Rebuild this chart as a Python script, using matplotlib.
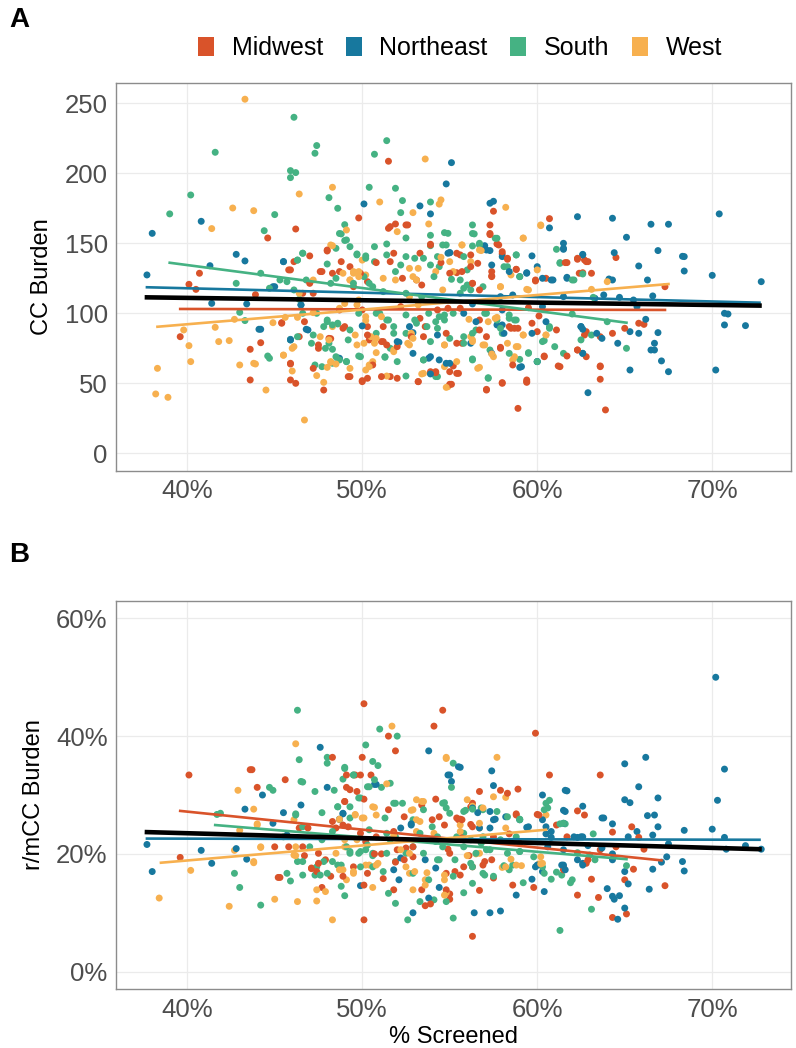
import matplotlib
matplotlib.use("Agg")
import matplotlib.pyplot as plt
from matplotlib.patches import Patch
from matplotlib.ticker import FuncFormatter

regions = ["Midwest", "Northeast", "South", "West"]
colors = {"Midwest": "#D9532A", "Northeast": "#17789E", "South": "#45B283", "West": "#F7B04F"}

# ---- Panel A: % screened vs CC burden ----
mw_a = [(51.5, 208.6), (49.8, 168.1), (46.2, 160.2), (44.6, 153.8), (40.7, 128.6), (40.1, 120.7), (40.5, 117.1),
        (39.6, 83.3), (43.6, 74.3), (43.6, 52.4), (44.2, 79), (43.9, 113.3), (45.4, 93.3), (45.9, 63.8), (45.9, 52.4),
        (46.2, 50), (46.4, 83.3), (45.9, 131), (47.0, 141), (47.6, 129.8), (48.0, 145.2), (48.2, 81.9), (47.5, 75),
        (47.2, 60.7), (47.8, 45.2), (49.2, 54.8), (48.9, 89.3), (50.0, 51.9), (50.3, 53.6), (50.6, 63.1), (50.4, 81),
        (50.8, 136.2), (51.6, 161.9), (51.9, 163.8), (52.6, 163.1), (51.8, 142.9), (52.2, 104.8), (51.1, 79.8),
        (51.2, 90.5), (51.6, 54.8), (53.2, 51.2), (53.3, 142.9), (53.9, 149.3), (53.6, 90.5), (53.9, 57.1),
        (54.2, 58.3), (54.5, 136.2), (52.8, 83.3), (48.3, 128.6), (48.7, 102.4), (47.2, 114.3), (46.6, 114.3),
        (49.5, 119), (50.0, 102.4), (57.5, 172.9), (60.7, 167.6), (57.3, 156.2), (57.7, 149.5), (64.5, 139.8),
        (62.3, 138.6), (62.7, 138.1), (62.9, 136.9), (61.6, 136.2), (58.0, 142.4), (58.3, 138.6), (62.4, 128.6),
        (63.1, 128.6), (58.8, 131.4), (59.9, 123.1), (67.3, 119), (57.4, 126.7), (56.3, 121.4), (55.4, 129),
        (60.1, 98.1), (65.0, 89.3), (64.3, 85.7), (65.8, 92.9), (66.1, 92.1), (63.6, 83.3), (62.7, 84.5),
        (62.3, 73.8), (61.2, 62.4), (63.6, 62.4), (63.6, 52.9), (63.9, 31), (61.7, 69.5), (60.4, 69.5),
        (58.9, 32.1), (59.4, 52.4), (59.4, 50.7), (58.0, 50.5), (57.1, 45.7), (58.6, 63.1), (58.5, 89.3),
        (58.9, 89.3), (57.9, 75.7), (55.4, 57.1), (55.0, 49.3), (55.1, 49.3), (55.2, 62.4), (55.7, 78.6),
        (54.8, 85.7), (56.7, 95.2), (59.5, 104), (56.2, 133.3), (55.6, 141.7)]
mw_a_core = [(51.5, 160.7), (52.5, 163.1), (48.0, 144.5), (47.7, 129.8), (48.8, 136.9), (48.7, 129.8), (49.3, 133.3),
             (49.9, 128.6), (50.3, 122.6), (51.6, 136.9), (52.3, 125), (53.1, 123.8), (53.4, 120.2), (53.9, 148.8),
             (46.1, 136.9), (45.8, 131), (47.0, 121.4), (46.7, 94), (47.5, 77.4), (48.1, 82.1), (49.0, 90.5),
             (50.3, 90.5), (50.3, 84.5), (51.2, 79.8), (51.4, 77.4), (52.0, 76.2), (53.3, 96.4), (53.5, 83.3),
             (53.9, 58.3), (45.9, 64.3), (45.4, 92.9), (49.3, 54.8), (50.0, 51.2), (51.1, 54.8), (52.0, 53.6),
             (53.2, 51.2), (54.2, 57.6), (57.3, 163.1), (57.8, 148.8), (58.0, 144), (58.3, 139.3), (57.3, 157),
             (56.6, 135.7), (56.2, 141.7), (55.4, 142.9), (55.7, 129.8), (55.0, 128.6), (57.4, 129.8), (57.4, 126.2),
             (58.8, 131.4), (59.9, 123.8), (56.3, 121.4), (56.7, 116.7), (60.5, 125), (61.7, 136.2), (62.3, 139.3),
             (62.8, 136.9), (62.6, 129), (54.3, 102.4), (54.9, 103.6), (55.6, 103.6), (56.7, 88.1), (57.1, 83.3),
             (57.9, 75), (58.4, 90.5), (58.7, 89.3), (59.7, 92.9), (60.0, 86.9), (60.4, 69), (61.3, 61.9),
             (61.1, 88.1), (62.3, 73.8), (62.8, 69), (55.4, 78.6), (55.0, 58.3), (55.5, 57.1), (57.1, 45.2),
             (58.0, 50), (59.4, 51.2), (63.6, 61.9), (62.8, 86.9)]
ne_a = [(38.0, 157.1), (37.7, 127.4), (40.8, 165.7), (41.3, 134), (42.8, 142.1), (43.3, 137.4), (41.4, 107.1),
        (43.4, 106.7), (45.5, 136.9), (44.2, 88.6), (44.9, 119), (45.9, 81.4), (46.5, 106), (46.8, 88.6),
        (48.6, 68.1), (50.1, 178.1), (53.3, 176.7), (53.9, 171), (54.8, 192.4), (53.9, 56.7), (53.8, 67.9),
        (54.8, 64.3), (52.0, 79.8), (52.9, 86.2), (54.3, 84.5), (50.0, 91), (54.9, 142.9), (55.1, 207.6),
        (57.3, 178.6), (57.5, 180), (60.7, 161), (62.3, 169), (64.3, 167.9), (66.5, 163.6), (67.5, 163.6),
        (70.4, 171), (65.1, 154.3), (61.5, 150), (61.5, 146.4), (66.9, 144.8), (64.4, 143.3), (62.6, 142.1),
        (59.7, 141), (68.3, 140.7), (68.4, 140.5), (65.8, 133.8), (68.4, 130.2), (70.0, 127.1), (72.8, 122.6),
        (64.1, 124.5), (64.3, 123.8), (66.3, 123.8), (60.9, 123.8), (61.7, 125.7), (59.4, 129), (57.3, 144.8),
        (57.0, 148.3), (55.0, 143.3), (70.7, 100), (70.9, 99.5), (70.7, 91.7), (71.9, 91.2), (70.2, 59.5),
        (67.5, 58.3), (65.3, 59.5), (67.1, 66), (66.5, 73.8), (66.7, 73.8), (66.7, 78.6), (66.9, 86.2),
        (66.2, 95.7), (65.8, 85.7), (65.3, 86.9), (64.6, 78.6), (63.7, 82.1), (62.5, 90.5), (62.6, 88.6),
        (62.6, 71.4), (62.9, 43.3), (59.7, 85.7), (60.0, 65.5), (59.0, 61.4), (58.1, 85.7), (57.7, 91.7),
        (56.3, 106.7), (55.8, 100), (65.5, 109.5), (65.7, 104.8), (66.6, 112.4), (63.8, 113.1), (63.3, 110.7),
        (61.5, 111.9), (60.3, 104.8), (58.6, 113.1), (58.0, 102.4), (64.7, 111.4)]
ne_a_core = [(45.5, 136.9), (45.0, 119), (46.5, 106), (45.9, 81), (46.9, 88.1), (48.7, 67.9), (52.1, 79.3),
             (52.7, 90.5), (52.9, 71.4), (53.9, 69), (44.1, 88.6), (55.0, 143.3), (57.1, 145.2), (57.4, 134.5),
             (58.0, 140.5), (58.4, 129.8), (59.0, 126.2), (59.4, 128.6), (60.0, 133.3), (60.3, 125), (60.8, 123.8),
             (61.7, 125), (61.5, 145.7), (62.6, 141.7), (57.9, 111.9), (56.5, 94), (58.0, 91.7), (56.2, 78.6),
             (57.4, 71.4), (59.1, 61.9), (60.0, 65.5), (60.5, 94), (62.5, 90.5), (62.6, 71.4), (63.4, 85.7),
             (54.4, 66.7), (55.0, 64.3)]
so_a = [(46.1, 240), (47.4, 219.8), (47.3, 214.3), (51.4, 223.3), (41.6, 215), (50.7, 213.6), (45.9, 201.9),
        (46.2, 200.5), (45.9, 196.9), (40.2, 184.5), (39.0, 171), (45.0, 170.5), (48.1, 182.6), (48.6, 175),
        (50.4, 190), (51.9, 189.3), (52.3, 180.5), (53.9, 179.5), (44.4, 159), (49.0, 163.3), (48.8, 156.7),
        (49.1, 152.4), (46.6, 142.9), (46.3, 138), (48.0, 135.2), (49.7, 142.4), (50.7, 147.6), (51.4, 149.5),
        (52.5, 153.8), (52.2, 171.9), (53.0, 139.3), (53.9, 155.7), (54.6, 148.8), (42.8, 121.4), (43.0, 100.7),
        (43.3, 94.8), (44.2, 128.6), (44.6, 69.5), (44.7, 67.9), (45.7, 122.6), (46.4, 110), (46.8, 123.8),
        (47.1, 78.6), (47.7, 61.9), (48.0, 94), (48.3, 74.3), (48.6, 92.4), (48.7, 66.7), (49.1, 65.5),
        (49.2, 81), (49.5, 121.4), (49.8, 100), (49.8, 69.5), (50.2, 141), (50.4, 121.4), (50.8, 85.7),
        (51.0, 100), (51.3, 68.6), (51.5, 95.2), (51.8, 85.7), (52.0, 65.5), (52.5, 55.2), (52.5, 114.3),
        (53.0, 95.2), (53.5, 66.7), (53.8, 100), (54.1, 126.2), (54.3, 54.8), (53.4, 111.9), (54.4, 97.6),
        (56.3, 163.1), (56.4, 156.7), (54.9, 157.1), (53.9, 148.3), (56.3, 148.1), (56.7, 150), (57.6, 153.6),
        (58.8, 141.7), (61.1, 145.7), (61.3, 136.2), (62.0, 123.8), (62.6, 128.1), (62.0, 99.5), (63.2, 111.4),
        (65.1, 75), (63.1, 84.5), (60.7, 89.3), (60.4, 80.5), (61.5, 71.4), (60.0, 65.5), (59.5, 71.9),
        (59.0, 67.1), (57.2, 54), (56.3, 67.4), (56.5, 88.1), (55.8, 83.3), (57.9, 89.3), (58.4, 96.4),
        (58.8, 95.2), (57.1, 100), (55.6, 114.3), (56.0, 120.2), (55.1, 124.3), (54.4, 133.3), (54.3, 140.5),
        (59.0, 126.2), (58.1, 133.3), (56.9, 119), (54.7, 95.2), (55.2, 100)]
so_a_core = [(48.7, 157), (49.0, 152), (49.3, 147.6), (48.5, 146.4), (46.6, 142.9), (46.3, 138), (49.7, 141.7),
             (50.2, 139.3), (50.7, 136.9), (51.4, 141.7), (51.9, 129.8), (52.2, 134.5), (52.5, 140.5), (53.5, 139.3),
             (53.9, 134.5), (50.1, 126.2), (50.6, 119), (51.2, 115.5), (48.5, 125), (48.2, 121.4), (46.1, 116.7),
             (45.3, 123.8), (44.7, 117.9), (47.4, 100), (48.0, 95.2), (48.3, 91.7), (48.6, 92.9), (47.8, 90.5),
             (49.3, 88.1), (50.8, 100), (51.4, 95.2), (51.8, 90.5), (52.5, 98.8), (53.1, 92.9), (53.7, 90.5),
             (54.2, 94), (47.2, 84.5), (48.1, 78.6), (47.9, 75), (48.5, 69), (49.1, 65.5), (48.3, 64.3),
             (47.3, 63.1), (49.9, 69), (51.6, 75), (52.5, 85.7), (53.9, 79.8), (53.5, 66.7), (51.3, 69),
             (46.3, 83.3), (45.9, 81), (46.6, 100), (54.7, 157.6), (54.8, 148.8), (56.3, 157), (55.8, 140.5),
             (56.0, 131), (55.6, 123.8), (55.8, 117.9), (56.2, 116.7), (56.7, 148.8), (57.7, 153.6), (58.3, 133.3),
             (58.8, 141.7), (57.0, 100), (57.7, 95.2), (58.0, 85.7), (58.4, 98.8), (58.7, 95.2), (54.7, 98.8),
             (54.3, 89.3), (55.0, 82.1), (55.8, 78.6), (56.3, 85.7), (57.3, 73.8), (58.4, 71.4), (59.5, 71.4),
             (56.3, 66.7), (60.7, 90.5), (60.3, 79.8), (61.3, 135.7), (62.1, 123.8), (61.0, 76.2), (64.0, 94),
             (62.5, 81), (57.2, 53.6), (54.2, 54.8)]
we_a = [(43.3, 252.9), (53.6, 210.2), (48.3, 190), (46.4, 185.2), (51.0, 179.5), (42.6, 175.2), (43.8, 173.3),
        (41.4, 160.5), (53.8, 163.8), (52.9, 171.9), (54.4, 178), (54.5, 181), (49.1, 159.5), (48.3, 148.3),
        (38.3, 60.7), (38.2, 42.4), (38.9, 40), (39.8, 88.1), (40.1, 76.9), (40.2, 65.5), (41.6, 90), (41.8, 79.8),
        (42.4, 80.5), (42.7, 95.7), (43.0, 63.1), (43.8, 64.3), (43.9, 63.8), (44.5, 45.2), (45.5, 70), (44.9, 93.3),
        (45.6, 97.1), (46.0, 75), (46.0, 58.8), (46.7, 23.8), (46.3, 97.1), (47.2, 100.5), (47.4, 55.5),
        (47.8, 50.7), (48.0, 61.4), (48.2, 65), (48.1, 81), (48.3, 90.5), (48.5, 63.8), (49.0, 107), (49.3, 123.8),
        (49.5, 129.8), (49.8, 126.2), (50.0, 138), (49.8, 109.5), (49.6, 84.5), (50.1, 78.6), (50.2, 94.8),
        (50.4, 61.9), (50.6, 65.5), (50.8, 82.1), (50.8, 71.9), (51.4, 55.2), (51.8, 73.8), (52.0, 158.3),
        (52.6, 78.6), (52.8, 85), (53.1, 123.8), (53.4, 56.7), (54.5, 140), (54.8, 47.1), (54.7, 77.4),
        (58.2, 175.7), (59.2, 153.8), (60.2, 162.6), (55.7, 148.8), (56.8, 144.8), (56.2, 136.9), (55.2, 129.8),
        (64.0, 122.6), (57.9, 119), (59.4, 117.1), (56.1, 95.7), (57.7, 97.1), (56.9, 77.4), (57.4, 71),
        (57.5, 69), (58.9, 76.2), (59.2, 84.5), (60.5, 84.5), (56.7, 61.4), (55.4, 65.5), (54.9, 47.6),
        (53.5, 57.1), (56.3, 81), (58.7, 69)]
we_a_core = [(48.2, 148.8), (48.9, 128.6), (49.3, 123.8), (49.5, 128.6), (49.8, 129.8), (50.2, 127.4), (51.2, 125),
             (51.9, 123.8), (52.7, 132.1), (52.9, 126.2), (53.2, 132.1), (47.2, 123.8), (46.4, 114.3), (48.7, 103.6),
             (49.7, 106), (50.2, 97.6), (51.1, 97.6), (52.7, 111.9), (53.2, 106), (47.6, 83.3), (49.7, 77.4),
             (50.5, 83.3), (50.7, 78.6), (51.8, 72.6), (52.8, 85.7), (52.9, 82.1), (52.7, 77.4), (48.2, 65.5),
             (49.3, 60.7), (50.2, 59.5), (50.4, 63.1), (46.1, 76.2), (45.5, 70.2), (55.7, 148.8), (56.7, 145.2),
             (55.0, 136.9), (54.2, 129.8), (54.6, 116.7), (58.5, 127.4), (59.2, 153.6), (60.0, 131), (59.5, 116.7),
             (57.9, 119), (57.6, 96.4), (57.2, 94), (58.3, 78.6), (58.8, 76.2), (59.2, 84.5), (56.2, 83.3),
             (56.3, 79.8), (54.7, 77.4), (57.0, 77.4), (56.6, 60.7), (54.7, 61.9), (58.6, 66.7), (60.5, 84.5),
             (60.2, 163.1), (63.1, 117.1)]

# ---- Panel B: % screened vs r/mCC burden (%) ----
mw_b = [(50.1, 45.5), (40.1, 33.4), (43.6, 34.3), (45.6, 32.6), (44.0, 31.3), (48.3, 36.4), (50.0, 36.4),
        (51.5, 40.0), (51.9, 37.5), (54.6, 44.4), (54.1, 41.7), (49.1, 33.4), (49.6, 33.4), (49.9, 33.4),
        (50.5, 33.4), (49.1, 31.3), (49.3, 30.9), (49.7, 30.6), (49.0, 28.9), (50.1, 29.3), (45.0, 21.2),
        (45.8, 21.2), (39.6, 19.4), (45.2, 16.0), (46.7, 19.7), (47.1, 17.5), (47.5, 18.4), (47.7, 14.3),
        (48.2, 16.2), (48.9, 16.2), (49.5, 17.8), (50.1, 14.7), (50.1, 8.8), (50.3, 16.7), (50.7, 20),
        (51.2, 15.8), (51.5, 27.5), (51.9, 18.6), (52.4, 26.3), (52.5, 21), (51.8, 13.9), (52.9, 21.2),
        (53.4, 13.9), (53.6, 11.2), (53.9, 11.5), (54.2, 29.3), (54.4, 26.3), (54.8, 13.9), (48.3, 25.5),
        (46.4, 24.4), (46.9, 24.4), (48.5, 24.4), (51.1, 20), (59.9, 40.5), (60.7, 33.4), (63.6, 33.4),
        (58.9, 31.0), (56.7, 30.6), (57.9, 30.8), (58.3, 30.3), (55.6, 25.9), (55.4, 26.1), (56.2, 25.0),
        (58.8, 26.8), (60.0, 26.7), (61.1, 24.9), (62.3, 27.3), (62.7, 26.6), (64.3, 23.7), (65.4, 24.6),
        (65.8, 22.8), (66.1, 20.8), (64.5, 21.2), (62.8, 18.4), (61.5, 17.3), (63.1, 15.7), (62.3, 13.0),
        (63.5, 12.6), (65.0, 15.6), (65.5, 17.4), (67.3, 14.6), (65.1, 9.8), (64.3, 9.2), (59.8, 14.3),
        (58.6, 14.7), (57.5, 15.9), (56.7, 13.8), (55.0, 13.2), (55.0, 12.3), (56.3, 6.0), (57.0, 18.7),
        (56.1, 19.7), (55.7, 22.7), (54.9, 20.8), (54.8, 16.7)]
mw_b_core = [(43.7, 34.3), (49.0, 28.9), (53.4, 28.3), (48.9, 24.9), (49.2, 24.6), (49.9, 23.5), (50.2, 22.1),
             (50.8, 22.9), (51.8, 23.8), (46.6, 21.2), (47.5, 20.1), (47.9, 19), (47.4, 17), (47.1, 17.6),
             (52.0, 20.7), (52.4, 19), (52.9, 19.5), (54.0, 25.8), (45.3, 16.0), (55.5, 25.8), (55.7, 25.8),
             (56.3, 24.6), (54.7, 24.9), (58.8, 26.6), (60.1, 26.6), (56.2, 28), (56.3, 28.6), (57.5, 22.9),
             (58.4, 23.4), (59.0, 21.8), (57.4, 19), (56.9, 18.1), (55.8, 17.8), (55.0, 20.1), (55.3, 17),
             (61.7, 22.9), (62.9, 19), (63.6, 20.7), (61.5, 17.8), (55.6, 16.4), (56.3, 17.8)]
ne_b = [(47.6, 38.1), (53.8, 37.5), (48.0, 31.3), (44.3, 30.0), (50.8, 31.8), (54.9, 33.4), (43.3, 27.6),
        (45.5, 27.0), (44.9, 25.2), (48.9, 26.8), (48.7, 25.9), (37.7, 21.6), (38.0, 17.0), (40.8, 20.6),
        (41.4, 18.4), (42.8, 20.9), (43.4, 19.1), (49.9, 14.6), (52.1, 15.6), (52.2, 24.4), (52.9, 10.0),
        (53.8, 12.5), (54.2, 17.6), (54.4, 14.3), (52.8, 24.9), (46.5, 28.3), (70.2, 50.0), (70.7, 34.4),
        (70.3, 29.1), (70.0, 24.2), (70.7, 22.8), (70.8, 20.8), (71.9, 21.4), (72.8, 20.8), (68.4, 24.0),
        (68.3, 18.7), (68.4, 17.1), (67.5, 21.7), (67.4, 19.5), (67.1, 18.6), (66.9, 24.6), (66.6, 23.2),
        (66.9, 29.5), (66.7, 26.6), (66.3, 26.5), (66.2, 36.4), (65.0, 35.3), (65.8, 31.4), (65.0, 29.2),
        (65.3, 28.7), (65.7, 23.8), (65.2, 22.9), (66.6, 17.4), (66.4, 14.0), (65.0, 17.0), (65.2, 14.9),
        (65.0, 10.8), (64.6, 8.9), (64.4, 12.3), (64.7, 12.9), (64.3, 12.8), (64.0, 14.1), (64.3, 19.0),
        (64.3, 20.0), (64.3, 25.1), (63.7, 26.1), (63.7, 21.0), (62.6, 28.1), (61.6, 30.8), (61.5, 27.4),
        (61.5, 25.2), (62.6, 18.4), (62.9, 21.4), (62.3, 22.8), (62.6, 22.9), (61.5, 18.1), (61.6, 17.3),
        (60.3, 30.0), (60.3, 25.8), (60.5, 23.4), (60.8, 22.8), (60.4, 13.6), (59.7, 15.7), (59.9, 17.8),
        (58.8, 13.0), (57.9, 10.3), (57.3, 10.0), (56.4, 10.0), (55.0, 33.4), (55.1, 32.3), (55.5, 34.8),
        (57.4, 34.1), (57.5, 31.6), (57.6, 25.9), (57.3, 24.4), (58.2, 26.3), (59.4, 24.5), (56.6, 27.0)]
ne_b_core = [(50.7, 31.8), (48.9, 26.9), (52.8, 25.1), (45.7, 23.2), (52.2, 19.3), (53.6, 19.0), (51.8, 17.3),
             (55.6, 34.7), (56.3, 27.8), (57.3, 27.2), (57.5, 25.8), (56.7, 24.4), (59.0, 25.8), (59.5, 24.6),
             (61.7, 30.7), (61.6, 27.2), (60.5, 24.6), (60.8, 23.8), (62.1, 22.9), (62.5, 22.9), (63.8, 26.1),
             (60.6, 21.2), (61.5, 20.7), (61.4, 18.1), (62.3, 19), (62.6, 18.1), (60.0, 18.1), (60.3, 17.0)]
so_b = [(46.3, 44.4), (51.0, 41.2), (52.0, 40.0), (50.2, 38.5), (46.4, 36.0), (48.0, 36.4), (48.0, 35.4),
        (50.6, 35.7), (50.9, 35.0), (49.0, 34.7), (49.5, 33.4), (46.6, 32.2), (47.3, 30.6), (44.7, 31.3),
        (44.9, 30.8), (48.4, 30.8), (50.4, 31.4), (51.1, 31.3), (51.6, 32.0), (49.8, 29.5), (47.7, 27.0),
        (48.6, 28.0), (49.3, 26.1), (46.2, 26.8), (41.7, 26.7), (41.9, 26.9), (51.9, 28.6), (52.3, 28.6),
        (53.5, 27.5), (52.9, 25.8), (50.4, 24.1), (51.4, 23.5), (42.7, 16.7), (43.0, 14.3), (44.2, 11.3),
        (45.9, 15.4), (46.3, 18.7), (46.6, 16.4), (47.3, 16.4), (47.8, 18.7), (48.0, 16.7), (48.6, 18.1),
        (48.8, 14.5), (49.0, 12.9), (49.3, 20.4), (49.8, 20.1), (50.2, 20.7), (50.6, 19.7), (51.5, 13.3),
        (51.9, 11.6), (52.6, 8.8), (52.9, 16.7), (53.3, 11.9), (54.1, 12.2), (54.8, 11.9), (53.8, 15.6),
        (54.3, 19.0), (51.6, 22.4), (53.3, 23.5), (55.2, 35.4), (55.1, 31.3), (54.7, 28.7), (54.8, 27.8),
        (55.9, 27.4), (56.3, 27.6), (56.9, 27.5), (59.0, 25.9), (60.5, 28.6), (60.7, 29.1), (60.4, 27.5),
        (61.3, 25.1), (61.6, 25.1), (63.2, 23.4), (62.3, 20.2), (63.3, 19.0), (65.1, 18.0), (60.8, 15.7),
        (60.4, 16.7), (61.4, 16.4), (62.0, 15.6), (61.9, 15.1), (61.3, 7.0), (63.1, 10.6), (55.2, 9.1),
        (55.8, 13.4), (56.3, 15.0), (57.0, 16.4), (56.3, 17.8), (58.1, 18.0), (58.4, 17.3), (59.2, 15.1),
        (57.1, 20.7), (59.0, 20.4), (55.8, 23.5), (56.8, 21.8)]
so_b_core = [(49.0, 34.5), (48.9, 32.7), (49.5, 33.4), (49.9, 29.5), (50.3, 31.4), (50.7, 32.6), (46.5, 32.3),
             (48.6, 28.0), (49.3, 28.0), (51.3, 26.1), (51.8, 28.6), (46.2, 26.6), (45.5, 22.9), (46.6, 24.6),
             (47.0, 21.2), (47.7, 22.4), (48.3, 23.8), (49.1, 21.2), (49.3, 20.1), (49.9, 20.4), (50.3, 21.5),
             (50.6, 20.1), (51.4, 20.1), (51.9, 22.9), (52.5, 20.1), (52.9, 21.2), (53.5, 20.1), (54.0, 24.6),
             (54.2, 22.1), (48.3, 18.7), (48.8, 18.1), (49.9, 17.8), (50.6, 17.8), (51.9, 18.7), (51.2, 17.0),
             (46.6, 18.7), (47.4, 17.8), (45.7, 16.7), (47.6, 16.4), (54.6, 28.6), (55.0, 26.9), (55.8, 27.2),
             (56.8, 27.8), (57.7, 27.2), (58.3, 26.3), (59.0, 25.8), (60.6, 27.8), (61.5, 25.2), (58.8, 22.9),
             (57.9, 22.4), (56.9, 22.9), (56.2, 22.4), (55.4, 22.9), (54.3, 22.9), (54.6, 21.2), (55.8, 21.2),
             (56.5, 20.1), (57.3, 20.7), (58.3, 20.1), (59.0, 20.4), (59.8, 19.5), (63.0, 19.8), (54.4, 19),
             (55.3, 19), (56.2, 18.4), (56.9, 16.7), (58.6, 18.1), (55.2, 16.2), (57.5, 16.2), (60.3, 17.8),
             (61.1, 16.9)]
we_b = [(51.7, 41.7), (46.2, 38.7), (42.9, 30.8), (43.8, 27.6), (44.0, 24.9), (51.4, 31.9), (48.7, 25.9),
        (49.6, 26.7), (50.0, 26.1), (50.7, 27.9), (53.1, 29.2), (53.4, 28.9), (52.8, 27.4), (53.1, 25.8),
        (54.8, 36.2), (40.2, 17.2), (38.4, 12.5), (42.4, 11.1), (43.0, 24.0), (42.7, 20.6), (43.8, 18.5),
        (44.2, 21.1), (45.0, 12.3), (46.3, 11.9), (47.4, 12.0), (47.4, 13.9), (47.9, 13.6), (48.3, 8.8),
        (49.1, 15.6), (49.5, 17.0), (50.6, 14.3), (50.2, 18.1), (50.4, 18.1), (50.8, 18.1), (49.1, 21.2),
        (49.0, 22.4), (46.2, 19.7), (46.1, 25.8), (48.7, 17.3), (52.2, 20.7), (52.7, 16.7), (52.9, 13.9),
        (53.7, 16.8), (54.7, 15.6), (54.1, 23.5), (54.8, 36.4), (57.7, 36.4), (56.0, 29.2), (57.5, 29.7),
        (58.2, 29.6), (58.2, 24.4), (56.7, 25.2), (55.6, 24.9), (60.1, 18.3), (60.2, 18.3), (59.1, 18.0),
        (58.0, 17.7), (58.5, 19.1), (56.5, 20.0), (56.0, 19.7), (54.7, 13.0), (54.8, 13.4), (53.6, 15.6),
        (53.6, 14.7), (60.5, 26.6), (53.5, 28.9)]
we_b_core = [(52.9, 27.5), (53.3, 25.5), (53.1, 23.8), (50.6, 28), (50.8, 26.6), (50.1, 26.1), (49.6, 26.6),
             (48.7, 25.8), (44.0, 25.1), (44.2, 21.2), (46.2, 21.2), (46.1, 19.8), (48.5, 20.1), (49.0, 21.2),
             (49.7, 22.4), (51.8, 23.2), (52.7, 20.1), (52.5, 17.8), (53.0, 17), (43.8, 18.7), (50.9, 18.4),
             (49.5, 16.7), (48.9, 17.3), (56.3, 28.1), (56.9, 27.8), (56.7, 24.4), (55.6, 23.8), (60.2, 19.5),
             (60.3, 18.4), (58.8, 18.1), (58.2, 17.8), (56.7, 20.1), (54.7, 16.4)]

# linear fit lines: (x start, y start, x end, y end)
fits_a = {"Midwest": (39.6, 103.1, 67.3, 102.4), "Northeast": (37.7, 118.6, 72.7, 107.6),
          "South": (39.0, 136.1, 65.1, 93.3), "West": (38.3, 90.4, 67.5, 120.9)}
fit_all_a = (37.7, 111.4, 72.7, 105.5)
fits_b = {"Midwest": (39.6, 27.3, 67.1, 18.9), "Northeast": (37.7, 22.6, 72.7, 22.4),
          "South": (41.6, 24.9, 65.1, 19.1), "West": (38.5, 18.5, 60.5, 24.1)}
fit_all_b = (37.7, 23.7, 72.7, 20.8)

points_a = {"Midwest": mw_a + mw_a_core, "Northeast": ne_a + ne_a_core,
            "South": so_a + so_a_core, "West": we_a + we_a_core}
points_b = {"Midwest": mw_b + mw_b_core, "Northeast": ne_b + ne_b_core,
            "South": so_b + so_b_core, "West": we_b + we_b_core}

plt.rcParams["font.family"] = ["Liberation Sans", "DejaVu Sans"]

pct = FuncFormatter(lambda v, _: f"{v:.0f}%")


def style_axes(ax):
    ax.set_facecolor("white")
    for s in ax.spines.values():
        s.set_color("#8C8C8C")
        s.set_linewidth(1.0)
    ax.grid(True, color="#EBEBEB", linewidth=0.9)
    ax.set_axisbelow(True)
    ax.tick_params(length=0, labelsize=18.5, labelcolor="#4D4D4D", pad=6)
    ax.set_xlim(35.93, 74.5)
    ax.set_xticks([40, 50, 60, 70])
    ax.xaxis.set_major_formatter(pct)


def draw_panel(ax, points, fits, fit_all):
    # interleave regions so no single colour sits on top of the rest
    order = []
    for r in regions:
        order += [(x, y, colors[r]) for x, y in points[r]]
    order = order[::3] + order[1::3] + order[2::3]
    ax.scatter([o[0] for o in order], [o[1] for o in order], s=25,
               c=[o[2] for o in order], linewidths=0, zorder=2)
    for r in regions:
        x0, y0, x1, y1 = fits[r]
        ax.plot([x0, x1], [y0, y1], color=colors[r], linewidth=1.9, zorder=3)
    x0, y0, x1, y1 = fit_all
    ax.plot([x0, x1], [y0, y1], color="black", linewidth=3.3, zorder=4)


fig = plt.figure(figsize=(7.96, 10.48), dpi=100)
ax1 = fig.add_axes([0.1457, 0.5506, 0.848, 0.3705])
ax2 = fig.add_axes([0.1457, 0.0560, 0.848, 0.3708])

style_axes(ax1)
draw_panel(ax1, points_a, fits_a, fit_all_a)
ax1.set_ylim(-12.6, 264.7)
ax1.set_yticks([0, 50, 100, 150, 200, 250])
ax1.set_ylabel("CC Burden", fontsize=17, labelpad=8)

style_axes(ax2)
draw_panel(ax2, points_b, fits_b, fit_all_b)
ax2.set_ylim(-3, 63)
ax2.set_yticks([0, 20, 40, 60])
ax2.yaxis.set_major_formatter(pct)
ax2.set_ylabel("r/mCC Burden", fontsize=17, labelpad=8)
ax2.set_xlabel("% Screened", fontsize=17, labelpad=3)

fig.text(0.012, 0.981, "A", fontsize=20, fontweight="bold", ha="left", va="center")
fig.text(0.012, 0.470, "B", fontsize=20, fontweight="bold", ha="left", va="center")

handles = [Patch(facecolor=colors[r], edgecolor="none", label=r) for r in regions]
fig.legend(handles=handles, loc="center", bbox_to_anchor=(0.578, 0.954), ncol=4, frameon=False,
           fontsize=18, handlelength=0.65, handleheight=0.8, handletextpad=0.7, columnspacing=0.9)

fig.savefig("out.png", dpi=100, facecolor="white")
